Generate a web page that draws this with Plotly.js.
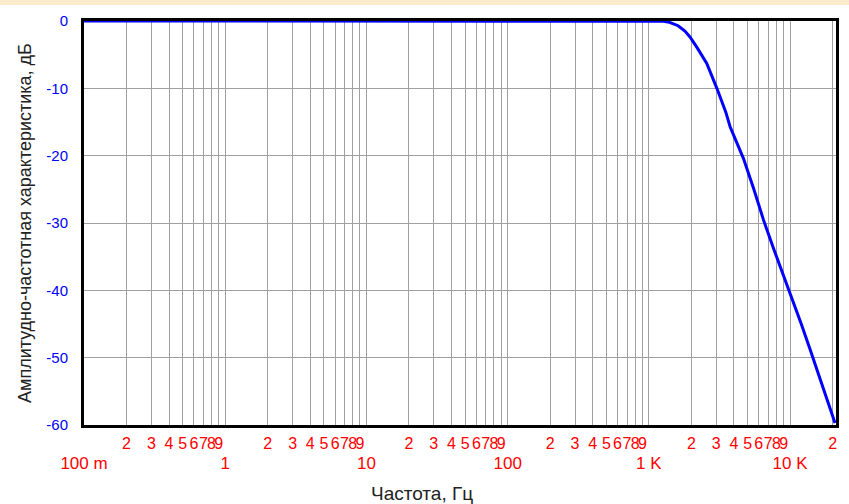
<!DOCTYPE html>
<html>
<head>
<meta charset="utf-8">
<script src="https://cdn.plot.ly/plotly-3.0.1.min.js"></script>
<style>
html,body{margin:0;padding:0;background:#ffffff;overflow:hidden}
#band{height:5px;background:#fcebca}
#chart{width:849px;height:499px}
</style>
</head>
<body>
<div id="band"></div>
<div id="chart"></div>
<script>
// Frequency response
const freqHz = [0.1, 1, 10, 100, 500, 1000, 1260, 1400, 1610, 1800, 1960, 2200, 2570, 3030, 3500, 3760, 4670, 5500, 6470, 7700, 8970, 10000, 12000, 13860, 16000, 18000, 20800];
const gainDb = [0, 0, 0, 0, 0, 0, -0.05, -0.2, -0.7, -1.5, -2.4, -4.0, -6.3, -10, -13.5, -15.7, -20.4, -24.8, -29.5, -34, -37.7, -40.4, -45, -48.8, -52.6, -55.8, -59.7];

// Grid / minor tick labels on the frequency axis
const gridVals = [0.1,0.2,0.3,0.4,0.5,0.6,0.7,0.8,0.9,
                  1,2,3,4,5,6,7,8,9,
                  10,20,30,40,50,60,70,80,90,
                  100,200,300,400,500,600,700,800,900,
                  1000,2000,3000,4000,5000,6000,7000,8000,9000,
                  10000,20000];
const gridText = ['','2','3','4','5','6','7','8','9',
                  '','2','3','4','5','6','7','8','9',
                  '','2','3','4','5','6','7','8','9',
                  '','2','3','4','5','6','7','8','9',
                  '','2','3','4','5','6','7','8','9',
                  '','2'];
// Decade labels
const decadeVals = [0.1, 1, 10, 100, 1000, 10000];
const decadeText = ['100 m', '1', '10', '100', '1 K', '10 K'];
// Gain axis ticks
const gainTickVals = [0, -10, -20, -30, -40, -50, -60];
const gainTickText = ['0', '-10', '-20', '-30', '-40', '-50', '-60'];

const xRange = [-1, 4.325];
const fontFam = 'Liberation Sans, Arial, sans-serif';

const data = [{
  type: 'scatter',
  mode: 'lines',
  x: freqHz,
  y: gainDb,
  line: {color: '#0000ff', width: 3},
  cliponaxis: false,
  hoverinfo: 'skip',
  showlegend: false
}, {
  type: 'scatter', x: [], y: [], xaxis: 'x2', yaxis: 'y', showlegend: false, hoverinfo: 'skip'
}];

const layout = {
  width: 849,
  height: 499,
  margin: {l: 84, r: 13, t: 16, b: 79},
  paper_bgcolor: '#ffffff',
  plot_bgcolor: '#ffffff',
  showlegend: false,
  xaxis: {
    type: 'log',
    range: xRange,
    tickmode: 'array',
    tickvals: gridVals,
    ticktext: gridText,
    tickangle: 0,
    ticks: '',
    ticklabelstandoff: 2,
    tickfont: {family: fontFam, size: 16, color: '#ff0000'},
    showgrid: true,
    gridcolor: '#a0a0a0',
    gridwidth: 1,
    zeroline: false,
    showline: true,
    linecolor: '#000000',
    linewidth: 3,
    mirror: true,
    layer: 'below traces',
    fixedrange: true
  },
  xaxis2: {
    type: 'log',
    range: xRange,
    overlaying: 'x',
    anchor: 'y',
    side: 'bottom',
    tickmode: 'array',
    tickvals: decadeVals,
    ticktext: decadeText,
    tickangle: 0,
    ticks: '',
    ticklabelstandoff: 26,
    tickfont: {family: fontFam, size: 17, color: '#ff0000'},
    showgrid: false,
    zeroline: false,
    showline: false,
    fixedrange: true
  },
  yaxis: {
    range: [-60, 0],
    tickmode: 'array',
    tickvals: gainTickVals,
    ticktext: gainTickText,
    ticks: '',
    ticklabelstandoff: 10,
    tickfont: {family: fontFam, size: 15, color: '#0000ff'},
    showgrid: true,
    gridcolor: '#a0a0a0',
    gridwidth: 1,
    zeroline: false,
    showline: true,
    linecolor: '#000000',
    linewidth: 3,
    mirror: true,
    layer: 'below traces',
    fixedrange: true
  },
  annotations: [
    {
      text: 'Частота, Гц',
      xref: 'paper', yref: 'paper',
      x: (422 - 84) / 752, y: 0,
      xanchor: 'center', yanchor: 'middle',
      yshift: -68,
      showarrow: false,
      font: {family: fontFam, size: 19, color: '#222222'}
    },
    {
      text: 'Амплитудно-частотная характеристика, дБ',
      xref: 'paper', yref: 'paper',
      x: 0, y: 0.5,
      xanchor: 'center', yanchor: 'middle',
      xshift: -59,
      textangle: -90,
      showarrow: false,
      font: {family: fontFam, size: 18, color: '#222222'}
    }
  ]
};

Plotly.newPlot('chart', data, layout, {displayModeBar: false, staticPlot: true});
</script>
</body>
</html>
